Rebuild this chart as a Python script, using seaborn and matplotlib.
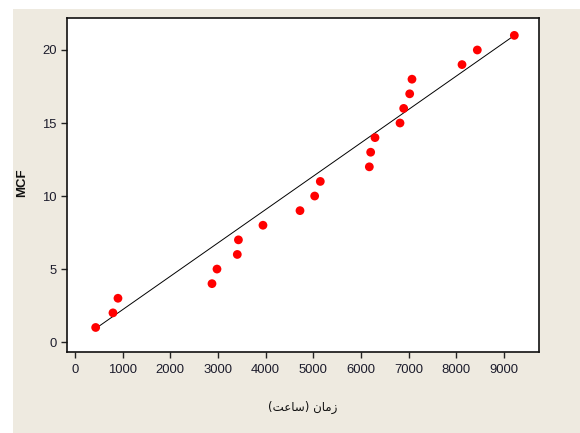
import matplotlib
matplotlib.use("Agg")
import matplotlib.pyplot as plt
import seaborn as sns
import pandas as pd
from matplotlib.patches import Rectangle

# ---- data ----
time_hours = [434, 797, 902, 2875, 2980, 3406, 3430, 3945, 4722, 5030, 5148,
              6177, 6205, 6296, 6821, 6898, 7024, 7072, 8122, 8443, 9220]
mcf = [1, 2, 3, 4, 5, 6, 7, 8, 9, 10, 11,
       12, 13, 14, 15, 16, 17, 18, 19, 20, 21]
fit_x = [400, 9200]
fit_y = [0.85, 20.95]
x_ticks = [0, 1000, 2000, 3000, 4000, 5000, 6000, 7000, 8000, 9000]
y_ticks = [0, 5, 10, 15, 20]
x_label_logical = "زمان (ساعت)"
y_label = "MCF"


def shape_arabic(text):
    try:
        import arabic_reshaper
        from bidi.algorithm import get_display
        return get_display(arabic_reshaper.reshape(text))
    except Exception:
        # visual-order presentation forms for "زمان (ساعت)"
        return "(\uFE96\uFECB\uFE8E\uFEB3) \uFEE5\uFE8E\uFEE3\uFEAF"


df = pd.DataFrame({"time": time_hours, "mcf": mcf})
fit = pd.DataFrame({"x": fit_x, "y": fit_y})

sns.set_theme(style="white")
plt.rcParams["font.family"] = ["Liberation Sans", "DejaVu Sans"]

fig = plt.figure(figsize=(5.8, 4.33), dpi=100)
fig.patch.set_facecolor("white")
bg = Rectangle((13 / 580, 0), 1 - 13 / 580, 1 - 9 / 433,
               transform=fig.transFigure, facecolor="#EEEAE0",
               edgecolor="none", zorder=-10)
fig.patches.append(bg)

ax = fig.add_axes([66.7 / 580, 1 - 352.3 / 433, (539.3 - 66.7) / 580,
                   (352.3 - 18.3) / 433])
ax.set_zorder(5)
ax.set_facecolor("white")

sns.lineplot(data=fit, x="x", y="y", ax=ax, color="black", linewidth=0.7,
             zorder=2)
sns.scatterplot(data=df, x="time", y="mcf", ax=ax, color="#FF0000", s=40,
                edgecolor="none", linewidth=0, zorder=3)

ax.set_xlim(-174, 9744)
ax.set_ylim(-0.7, 22.17)
ax.set_xticks(x_ticks)
ax.set_yticks(y_ticks)
ax.set_xticklabels([str(t) for t in x_ticks])
ax.set_yticklabels([str(t) for t in y_ticks])

for s in ax.spines.values():
    s.set_color("#111111")
    s.set_linewidth(1.2)

ax.tick_params(axis="both", which="major", direction="out", length=4.3,
               width=1.0, color="#222222", labelsize=9.4, labelcolor="#1c1c2c",
               bottom=True, left=True, top=False, right=False)
ax.tick_params(axis="x", pad=4)
ax.tick_params(axis="y", pad=3)

ax.set_xlabel(shape_arabic(x_label_logical), family=["DejaVu Sans"],
              fontsize=8.5, color="#111111")
ax.xaxis.set_label_coords(0.5, -0.164)
ax.xaxis.label.set_verticalalignment("center")

ax.set_ylabel(y_label, fontsize=9.5, fontweight="bold", color="#111111")
ax.yaxis.set_label_coords(-0.0946, 0.507)
ax.yaxis.label.set_verticalalignment("center")

fig.savefig("out.png", dpi=100, facecolor=fig.get_facecolor())
